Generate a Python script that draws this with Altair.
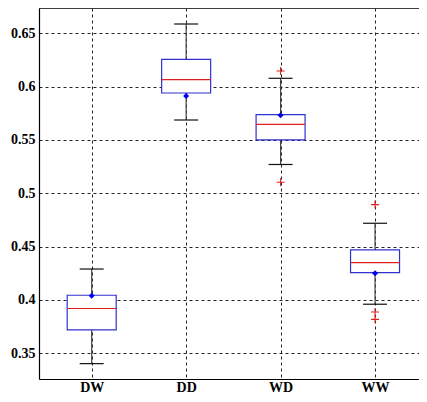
import altair as alt
import pandas as pd

cats = ["DW", "DD", "WD", "WW"]
pos = [1, 2, 3, 4]
q1 = [0.372, 0.594, 0.550, 0.4256]
median = [0.392, 0.6066, 0.5646, 0.435]
q3 = [0.4044, 0.6256, 0.5737, 0.4469]
wlo = [0.3403, 0.5687, 0.527, 0.396]
whi = [0.429, 0.6587, 0.6078, 0.4719]
mean = [0.404, 0.5912, 0.5731, 0.425]
out_cat = [3, 3, 4, 4, 4]
out_val = [0.6146, 0.5103, 0.4894, 0.3887, 0.3818]
y_ticks = [0.35, 0.4, 0.45, 0.5, 0.55, 0.6, 0.65]

df = pd.DataFrame({"cat": cats, "pos": pos, "q1": q1, "med": median, "q3": q3,
                   "wlo": wlo, "whi": whi, "mean": mean})
odf = pd.DataFrame({"pos": out_cat, "val": out_val})

FONT = "Liberation Serif"
label_expr = "datum.value == 1 ? 'DW' : datum.value == 2 ? 'DD' : datum.value == 3 ? 'WD' : datum.value == 4 ? 'WW' : ''"

W = 380
H = 371
xs = alt.Scale(domain=[0.495, 0.495 + W / 97.0], nice=False, zero=False)
ys = alt.Scale(domain=[0.3259, 0.6737], nice=False, zero=False)

X = alt.X("pos:Q", scale=xs, axis=alt.Axis(values=[1, 2, 3, 4], labelExpr=label_expr, title=None,
          grid=True, gridDash=[3, 3], gridColor="#222", gridWidth=1, gridOpacity=1,
          tickSize=0, labelPadding=1, labelFont=FONT, labelFontSize=14, labelFontWeight="bold",
          labelColor="#000", domainColor="#000", domainWidth=1.2))
Y = alt.Y("whi:Q", scale=ys, axis=alt.Axis(values=y_ticks, format="~g",
          title=None, grid=True, gridDash=[3, 3], gridColor="#222", gridWidth=1, gridOpacity=1,
          tickSize=0, labelPadding=4, labelFont=FONT, labelFontSize=14, labelFontWeight="bold",
          labelColor="#000", domainColor="#000", domainWidth=1.2, labelFlush=False))

base = alt.Chart(df)

whisk_hi = base.mark_rule(color="#444", strokeWidth=1.2).encode(x=X, y=Y, y2="q3:Q")
whisk_lo = base.mark_rule(color="#444", strokeWidth=1.2).encode(
    x=alt.X("pos:Q", scale=xs), y=alt.Y("wlo:Q", scale=ys), y2="q1:Q")
cap_hi = base.mark_rule(color="#111", strokeWidth=1.2, xOffset=-12, x2Offset=12).encode(
    x=alt.X("pos:Q", scale=xs), x2="pos:Q", y=alt.Y("whi:Q", scale=ys))
cap_lo = base.mark_rule(color="#111", strokeWidth=1.2, xOffset=-12, x2Offset=12).encode(
    x=alt.X("pos:Q", scale=xs), x2="pos:Q", y=alt.Y("wlo:Q", scale=ys))
box = base.mark_bar(size=49, fill="white", stroke="#3030d0", strokeWidth=1.2).encode(
    x=alt.X("pos:Q", scale=xs), y=alt.Y("q1:Q", scale=ys), y2="q3:Q")
med = base.mark_rule(color="#e02020", strokeWidth=1.2, xOffset=-24.5, x2Offset=24.5).encode(
    x=alt.X("pos:Q", scale=xs), x2="pos:Q", y=alt.Y("med:Q", scale=ys))
mean_pt = base.mark_point(shape="diamond", filled=True, color="#0000ee", size=36, opacity=1).encode(
    x=alt.X("pos:Q", scale=xs), y=alt.Y("mean:Q", scale=ys))
outl = alt.Chart(odf).mark_point(shape="M-1,0L1,0M0,-1L0,1", filled=False, color="#e02020", size=64,
    strokeWidth=1.1, opacity=1).encode(x=alt.X("pos:Q", scale=xs), y=alt.Y("val:Q", scale=ys))
top = alt.Chart(df).mark_rule(color="#333", strokeWidth=1.2).encode(
    x=alt.value(0), x2=alt.value(W), y=alt.value(0))

chart = alt.layer(whisk_hi, whisk_lo, cap_hi, cap_lo, box, med, mean_pt, outl, top).properties(
    width=W, height=H, padding={"left": 31, "top": 0, "right": 0, "bottom": 15},
    autosize=alt.AutoSizeParams(type="none"), background="white",
    view=alt.ViewBackground(stroke="transparent", strokeWidth=0, strokeOpacity=0)
).configure_view(strokeWidth=0, stroke="transparent", strokeOpacity=0)

chart.save("out.html", embed_options={"renderer": "svg", "actions": False})
